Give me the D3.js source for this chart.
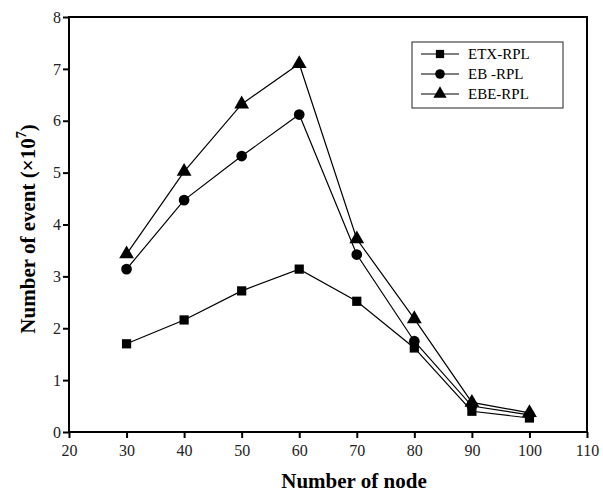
<!DOCTYPE html>
<html>
<head>
<meta charset="utf-8">
<script src="https://cdn.jsdelivr.net/npm/d3@7"></script>
<style>
  body { margin: 0; background: #fff; }
  text { font-family: "Liberation Serif", "Times New Roman", serif; }
</style>
</head>
<body>
<svg id="canvas" width="603" height="492"></svg>
<script>
// data
var nodes = [30, 40, 50, 60, 70, 80, 90, 100]
var etx = [1.70, 2.16, 2.72, 3.14, 2.52, 1.62, 0.40, 0.27]
var eb = [3.14, 4.47, 5.32, 6.12, 3.42, 1.75, 0.50, 0.33]
var ebe = [3.43, 5.02, 6.32, 7.10, 3.72, 2.18, 0.57, 0.37]
var seriesNames = ["ETX-RPL", "EB -RPL", "EBE-RPL"]
var xTicks = [20, 30, 40, 50, 60, 70, 80, 90, 100, 110]
var yTicks = [0, 1, 2, 3, 4, 5, 6, 7, 8]

var svg = d3.select("#canvas")
// plot box (note: "top" is a reserved window prop, so use pTop etc)
var pLeft = 69, pRight = 587, pTop = 17, pBottom = 432

var x = d3.scaleLinear().domain([20, 110]).range([pLeft, pRight])
var y = d3.scaleLinear().domain([0, 8]).range([pBottom, pTop])

// frame
svg.append("rect")
    .attr("x", pLeft).attr("y", pTop)
    .attr("width", pRight - pLeft).attr("height", pBottom - pTop)
    .attr("fill", "none").attr("stroke", "#000").attr("stroke-width", 2)

svg.append("g")
    .attr("transform", "translate(0," + pBottom + ")")
    .call(d3.axisBottom(x).tickValues(xTicks).tickSize(6).tickPadding(7))
svg.append("g")
    .attr("transform", "translate(" + pLeft + ",0)")
    .call(d3.axisLeft(y).tickValues(yTicks).tickSize(6).tickPadding(2))

svg.selectAll(".domain").remove()
svg.selectAll(".tick line").attr("stroke", "#000").attr("stroke-width", 2)
svg.selectAll(".tick text")
    .attr("fill", "#222")
    .style("font-size", "16px")
    .style("font-family", "Liberation Serif")

// axis titles
svg.append("text")
    .attr("x", 354).attr("y", 488)
    .attr("text-anchor", "middle")
    .style("font-size", "21px").style("font-weight", "bold")
    .text("Number of node")

var yt = svg.append("text")
    .attr("transform", "translate(35,229) rotate(-90)")
    .attr("text-anchor", "middle")
    .style("font-size", "21px").style("font-weight", "bold")
yt.append("tspan").text("Number of event (\u00d710")
yt.append("tspan").attr("dy", -9).style("font-size", "14px").text("7")
yt.append("tspan").attr("dy", 9).text(")")

// lines and markers
var allSeries = [etx, eb, ebe]
var shapes = [d3.symbolSquare, d3.symbolCircle, d3.symbolTriangle]
var sizes = [85, 90, 95]

var line = d3.line()
    .x(function(d, i) { return x(nodes[i]) })
    .y(function(d) { return y(d) })

allSeries.forEach(function(s) {
    svg.append("path")
        .attr("d", line(s))
        .attr("fill", "none")
        .attr("stroke", "#000")
        .attr("stroke-width", 1.2)
})

allSeries.forEach(function(s, k) {
    svg.selectAll(".m" + k)
        .data(s)
        .enter().append("path")
        .attr("class", "m" + k)
        .attr("d", d3.symbol().type(shapes[k]).size(sizes[k]))
        .attr("transform", function(d, i) { return "translate(" + x(nodes[i]) + "," + y(d) + ")" })
        .attr("fill", "#000")
})

// legend
var lg = svg.append("g")
lg.append("rect")
    .attr("x", 412).attr("y", 42).attr("width", 151).attr("height", 66)
    .attr("fill", "#fff").attr("stroke", "#222").attr("stroke-width", 1)

seriesNames.forEach(function(name, k) {
    var ry = 54 + k * 20
    lg.append("line")
        .attr("x1", 421).attr("x2", 459).attr("y1", ry).attr("y2", ry)
        .attr("stroke", "#000").attr("stroke-width", 1.2)
    lg.append("path")
        .attr("d", d3.symbol().type(shapes[k]).size(sizes[k] * 0.8))
        .attr("transform", "translate(440," + ry + ")")
        .attr("fill", "#000")
    lg.append("text")
        .attr("x", 468).attr("y", ry + 5)
        .style("font-size", "15px")
        .text(name)
})
</script>
</body>
</html>
